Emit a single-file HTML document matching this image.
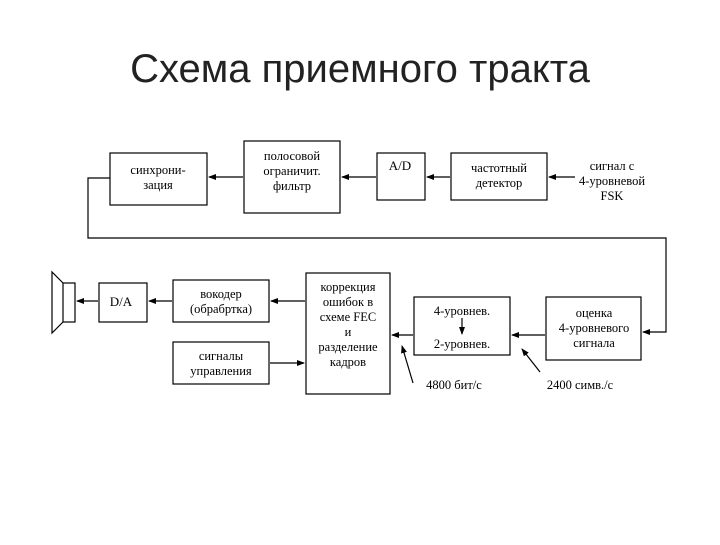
<!DOCTYPE html>
<html><head><meta charset="utf-8"><style>
body{margin:0;background:#fff;width:720px;height:540px;overflow:hidden}
</style></head><body>
<svg width="720" height="540" xmlns="http://www.w3.org/2000/svg">
<defs><marker id="a" markerWidth="8" markerHeight="8" refX="7" refY="4" orient="auto" markerUnits="userSpaceOnUse"><path d="M0,1 L8,4 L0,7 z" fill="#000"/></marker></defs>
<text x="360" y="82" font-family="Liberation Sans, sans-serif" font-size="40" text-anchor="middle" fill="#222">Схема приемного тракта</text>
<g fill="none" stroke="#000" stroke-width="1.2">
<rect x="110" y="153" width="97" height="52"/>
<rect x="244" y="141" width="96" height="72"/>
<rect x="377" y="153" width="48" height="47"/>
<rect x="451" y="153" width="96" height="47"/>
<rect x="99" y="283" width="48" height="39"/>
<rect x="173" y="280" width="96" height="42"/>
<rect x="173" y="342" width="96" height="42"/>
<rect x="306" y="273" width="84" height="121"/>
<rect x="414" y="297" width="96" height="58"/>
<rect x="546" y="297" width="95" height="63"/>
<rect x="63" y="283" width="12" height="39"/>
<path d="M63,283 L52,272 L52,333 L63,322"/>
<g marker-end="url(#a)">
<line x1="575" y1="177" x2="549" y2="177"/>
<line x1="450" y1="177" x2="427" y2="177"/>
<line x1="376" y1="177" x2="342" y2="177"/>
<line x1="243" y1="177" x2="209" y2="177"/>
<path d="M110,178 L88,178 L88,238 L666,238 L666,332 L643,332"/>
<line x1="545" y1="335" x2="512" y2="335"/>
<line x1="413" y1="335" x2="392" y2="335"/>
<line x1="305" y1="301" x2="271" y2="301"/>
<line x1="172" y1="301" x2="149" y2="301"/>
<line x1="98" y1="301" x2="77" y2="301"/>
<line x1="270" y1="363" x2="304" y2="363"/>
<line x1="462" y1="318" x2="462" y2="334"/>
<line x1="413" y1="383" x2="402" y2="346"/>
<line x1="540" y1="372" x2="522" y2="349"/>
</g></g>
<g font-family="Liberation Serif, serif" font-size="12.5" text-anchor="middle" fill="#000">
<text x="158" y="174">синхрони-</text><text x="158" y="189">зация</text>
<text x="292" y="160">полосовой</text><text x="292" y="175">ограничит.</text><text x="292" y="190">фильтр</text>
<text x="400" y="170" font-size="13">A/D</text>
<text x="499" y="172">частотный</text><text x="499" y="187">детектор</text>
<text x="612" y="170">сигнал с</text><text x="612" y="185">4-уровневой</text><text x="612" y="200">FSK</text>
<text x="121" y="306" font-size="13">D/A</text>
<text x="221" y="298">вокодер</text><text x="221" y="313">(обрабртка)</text>
<text x="221" y="360">сигналы</text><text x="221" y="375">управления</text>
<text x="348" y="291">коррекция</text><text x="348" y="306">ошибок в</text><text x="348" y="321">схеме FEC</text><text x="348" y="336">и</text><text x="348" y="351">разделение</text><text x="348" y="366">кадров</text>
<text x="462" y="315">4-уровнев.</text><text x="462" y="348">2-уровнев.</text>
<text x="594" y="317">оценка</text><text x="594" y="332">4-уровневого</text><text x="594" y="347">сигнала</text>
<text x="454" y="389">4800 бит/с</text>
<text x="580" y="389">2400 симв./с</text>
</g>
</svg>
</body></html>
